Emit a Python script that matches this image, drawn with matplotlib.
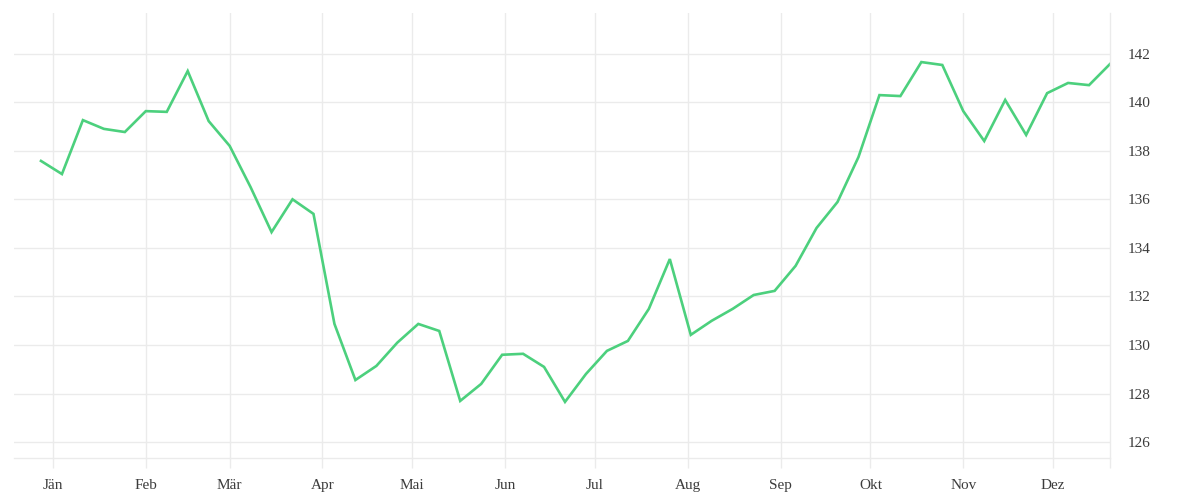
import matplotlib.pyplot as plt
import matplotlib.dates as mdates
import pandas as pd

# weekly values
start_date = "2020-12-28"
values = [
    137.58, 137.04, 139.26, 138.90, 138.77, 139.63, 139.60, 141.28, 139.22, 138.20,
    136.50, 134.65, 136.00, 135.40, 130.87, 128.56, 129.14, 130.10, 130.87, 130.58,
    127.70, 128.40, 129.60, 129.64, 129.10, 127.66, 128.81, 129.76, 130.17, 131.49,
    133.54, 130.42, 131.00, 131.49, 132.06, 132.23, 133.26, 134.82, 135.89, 137.74,
    140.29, 140.25, 141.65, 141.53, 139.63, 138.40, 140.09, 138.65, 140.37, 140.79,
    140.70, 141.57,
]
dates = pd.date_range(start_date, periods=len(values), freq="7D")

month_labels = ["Jän", "Feb", "Mär", "Apr", "Mai", "Jun",
                "Jul", "Aug", "Sep", "Okt", "Nov", "Dez"]
month_ticks = pd.date_range("2021-01-01", periods=12, freq="MS")
y_ticks = [126, 128, 130, 132, 134, 136, 138, 140, 142]

grid_col = "#ebebeb"
text_col = "#3c3c3c"

plt.rcParams['font.family'] = ['Liberation Serif', 'DejaVu Serif']

fig = plt.figure(figsize=(12, 5), dpi=100)
ax = fig.add_axes([0.0117, 0.084, 0.9133, 0.89])

ax.plot(dates, values, color="#4cd07d", linewidth=1.9, solid_joinstyle="miter")

ax.set_xlim(pd.Timestamp("2020-12-19"), dates[-1])
ax.set_ylim(125.35, 143.67)

ax.set_xticks(month_ticks)
ax.set_xticklabels(month_labels)
ax.set_yticks(y_ticks)
ax.yaxis.tick_right()

# extra tick at the right end, like the reference
ax.set_xticks([dates[-1]], minor=True)

ax.grid(True, color=grid_col, linewidth=1)
ax.set_axisbelow(True)

for side in ["left", "top"]:
    ax.spines[side].set_visible(False)
for side in ["bottom", "right"]:
    ax.spines[side].set_color(grid_col)
    ax.spines[side].set_linewidth(1)

ax.tick_params(axis="x", which="both", length=7, width=1, color=grid_col,
               labelsize=11, labelcolor=text_col, pad=8)
ax.tick_params(axis="y", length=0, labelsize=11, labelcolor=text_col, pad=13)

plt.savefig("out.png", dpi=100)
